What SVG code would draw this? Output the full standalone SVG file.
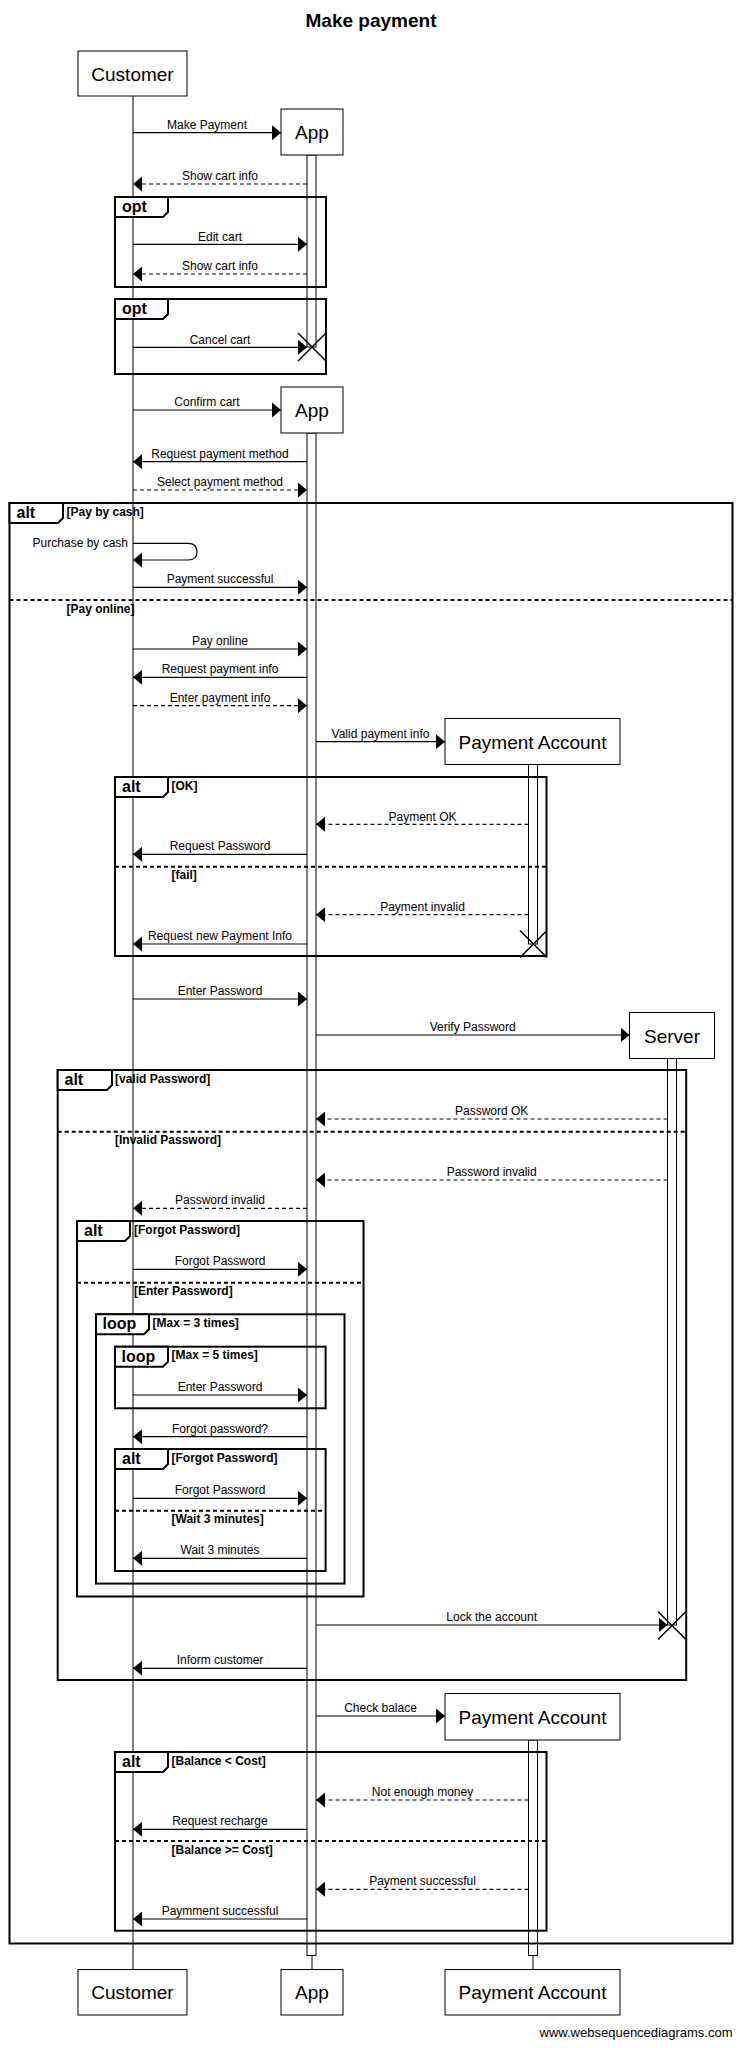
<svg xmlns="http://www.w3.org/2000/svg" width="742" height="2048" viewBox="0 0 742 2048">
<style>
text{font-family:"Liberation Sans",Arial,sans-serif;fill:#000}
.title{font-size:19px;font-weight:bold;text-anchor:middle}
.box{fill:#fff;stroke:#000;stroke-width:1}
.pt{font-size:19px;text-anchor:middle}
.life{stroke:#000;stroke-width:1;fill:none}
.bar{fill:#fff;stroke:#000;stroke-width:1}
.frame{fill:none;stroke:#000;stroke-width:2}
.tab{fill:#fff;stroke:#000;stroke-width:2}
.sep{stroke:#000;stroke-width:2;stroke-dasharray:4 3;fill:none}
.ft{font-size:16px;font-weight:bold}
.gd{font-size:12px;font-weight:bold}
.msg{stroke:#000;stroke-width:1.2;fill:none;marker-end:url(#ah)}
.dash{stroke-dasharray:4 3}
.ml{font-size:12px;text-anchor:middle}
.x{stroke:#000;stroke-width:1.5;fill:none}
.foot{font-size:13px;text-anchor:end}
</style>
<defs>
<marker id="ah" markerUnits="userSpaceOnUse" markerWidth="9" markerHeight="15" viewBox="0 0 9 15" refX="9" refY="7.5" orient="auto">
<path d="M0,0 L9,7.5 L0,15 Z" fill="#000" stroke="none"/>
</marker>
</defs>
<rect width="742" height="2048" fill="#fff"/>
<text class="title" x="371" y="27">Make payment</text>

<g id="lifelines">
<line class="life" x1="133" y1="96" x2="133" y2="1969"/>
<line class="life" x1="312" y1="1955.5" x2="312" y2="1969"/>
<line class="life" x1="533" y1="1955.5" x2="533" y2="1969"/>
<rect class="bar" x="307" y="155" width="9" height="192"/>
<rect class="bar" x="307" y="433" width="9" height="1522.5"/>
<rect class="bar" x="528.5" y="764.5" width="9" height="179.5"/>
<rect class="bar" x="528.5" y="1740" width="9" height="215.5"/>
<rect class="bar" x="667.5" y="1058.5" width="9" height="566.5"/>
</g>

<g id="participant-customer">
<rect class="box" x="78" y="51" width="109" height="45"/>
<text class="pt" x="132.5" y="80.5">Customer</text>
<rect class="box" x="78" y="1969.5" width="109" height="45.5"/>
<text class="pt" x="132.5" y="1999">Customer</text>
</g>
<g id="participant-app">
<rect class="box" x="281" y="109" width="62" height="46"/>
<text class="pt" x="312" y="139">App</text>
<rect class="box" x="281" y="387" width="62" height="46"/>
<text class="pt" x="312" y="417">App</text>
<rect class="box" x="281" y="1969.5" width="62" height="45.5"/>
<text class="pt" x="312" y="1999">App</text>
</g>
<g id="participant-payment-account">
<rect class="box" x="445" y="718.5" width="175" height="46"/>
<text class="pt" x="532.5" y="748.5">Payment Account</text>
<rect class="box" x="445" y="1693.5" width="175" height="46.5"/>
<text class="pt" x="532.5" y="1723.5">Payment Account</text>
<rect class="box" x="445" y="1969.5" width="175" height="45.5"/>
<text class="pt" x="532.5" y="1999">Payment Account</text>
</g>
<g id="participant-server">
<rect class="box" x="629.5" y="1012.5" width="85" height="46"/>
<text class="pt" x="672" y="1042.5">Server</text>
</g>

<g id="frames">
<!-- opt 1 -->
<rect class="frame" x="115" y="197" width="211" height="90"/>
<path class="tab" d="M115,197 H168 V212 L163,217 H115 Z"/>
<text class="ft" x="122" y="212">opt</text>
<!-- opt 2 -->
<rect class="frame" x="115" y="299" width="211" height="75"/>
<path class="tab" d="M115,299 H168 V314 L163,319 H115 Z"/>
<text class="ft" x="122" y="314">opt</text>
<!-- outer alt -->
<rect class="frame" x="9.5" y="503" width="723" height="1440.5"/>
<path class="tab" d="M9.5,503 H63 V518 L58,523 H9.5 Z"/>
<text class="ft" x="16.5" y="518">alt</text>
<text class="gd" x="66.5" y="515.5">[Pay by cash]</text>
<line class="sep" x1="9.5" y1="600" x2="732.5" y2="600"/>
<text class="gd" x="66.5" y="612.5">[Pay online]</text>
<!-- alt OK -->
<rect class="frame" x="115" y="777" width="431.5" height="179"/>
<path class="tab" d="M115,777 H168 V792 L163,797 H115 Z"/>
<text class="ft" x="122" y="792">alt</text>
<text class="gd" x="171.5" y="789.5">[OK]</text>
<line class="sep" x1="115" y1="866.7" x2="546.5" y2="866.7"/>
<text class="gd" x="171.5" y="879.3">[fail]</text>
<!-- alt valid password -->
<rect class="frame" x="57.7" y="1070" width="628.5" height="610"/>
<path class="tab" d="M57.7,1070 H112 V1085 L107,1090 H57.7 Z"/>
<text class="ft" x="64.5" y="1085">alt</text>
<text class="gd" x="115" y="1082.5">[valid Password]</text>
<line class="sep" x1="57.7" y1="1131.7" x2="686.2" y2="1131.7"/>
<text class="gd" x="115" y="1144">[Invalid Password]</text>
<!-- alt forgot password -->
<rect class="frame" x="77" y="1221" width="286.5" height="375.5"/>
<path class="tab" d="M77,1221 H130 V1236 L125,1241 H77 Z"/>
<text class="ft" x="84" y="1236">alt</text>
<text class="gd" x="134" y="1233.5">[Forgot Password]</text>
<line class="sep" x1="77" y1="1282.7" x2="363.5" y2="1282.7"/>
<text class="gd" x="134" y="1295">[Enter Password]</text>
<!-- loop 3 -->
<rect class="frame" x="96" y="1314.3" width="248.5" height="269.3"/>
<path class="tab" d="M96,1314.3 H149 V1329.3 L144,1334.3 H96 Z"/>
<text class="ft" x="102.5" y="1329.3">loop</text>
<text class="gd" x="152.5" y="1326.8">[Max = 3 times]</text>
<!-- loop 5 -->
<rect class="frame" x="115" y="1346.7" width="210.6" height="61.6"/>
<path class="tab" d="M115,1346.7 H168 V1361.7 L163,1366.7 H115 Z"/>
<text class="ft" x="121.5" y="1361.7">loop</text>
<text class="gd" x="171.5" y="1359.2">[Max = 5 times]</text>
<!-- inner alt forgot -->
<rect class="frame" x="115" y="1449" width="210.6" height="122"/>
<path class="tab" d="M115,1449 H168 V1464 L163,1469 H115 Z"/>
<text class="ft" x="122" y="1464">alt</text>
<text class="gd" x="171.5" y="1461.5">[Forgot Password]</text>
<line class="sep" x1="115" y1="1510.7" x2="325.6" y2="1510.7"/>
<text class="gd" x="171.5" y="1523">[Wait 3 minutes]</text>
<!-- alt balance -->
<rect class="frame" x="115" y="1752" width="431.5" height="178.7"/>
<path class="tab" d="M115,1752 H168 V1767 L163,1772 H115 Z"/>
<text class="ft" x="122" y="1767">alt</text>
<text class="gd" x="171.5" y="1764.5">[Balance &lt; Cost]</text>
<line class="sep" x1="115" y1="1841" x2="546.5" y2="1841"/>
<text class="gd" x="171.5" y="1853.5">[Balance &gt;= Cost]</text>
</g>

<g id="connectors">
<line class="msg" x1="133" y1="132.7" x2="281" y2="132.7"/>
<text class="ml" x="207" y="128.5">Make Payment</text>
<line class="msg dash" x1="307" y1="184" x2="133" y2="184"/>
<text class="ml" x="220" y="180">Show cart info</text>
<line class="msg" x1="133" y1="244.3" x2="307" y2="244.3"/>
<text class="ml" x="220" y="240.5">Edit cart</text>
<line class="msg dash" x1="307" y1="274" x2="133" y2="274"/>
<text class="ml" x="220" y="270">Show cart info</text>
<line class="msg" x1="133" y1="347.3" x2="307" y2="347.3"/>
<text class="ml" x="220" y="343.5">Cancel cart</text>
<path class="x" d="M298,333 L326,361 M326,333 L298,361"/>
<line class="msg" x1="133" y1="410" x2="281" y2="410"/>
<text class="ml" x="207" y="406">Confirm cart</text>
<line class="msg" x1="307" y1="461.7" x2="133" y2="461.7"/>
<text class="ml" x="220" y="457.5">Request payment method</text>
<line class="msg dash" x1="133" y1="490" x2="307" y2="490"/>
<text class="ml" x="220" y="486">Select payment method</text>
<path class="msg" d="M133,543.3 H188 Q197,543.3 197,551.7 Q197,560 188,560 H133"/>
<text class="ml" x="128" y="547" style="text-anchor:end">Purchase by cash</text>
<line class="msg" x1="133" y1="587.3" x2="307" y2="587.3"/>
<text class="ml" x="220" y="583.3">Payment successful</text>
<line class="msg" x1="133" y1="649" x2="307" y2="649"/>
<text class="ml" x="220" y="645">Pay online</text>
<line class="msg" x1="307" y1="677.3" x2="133" y2="677.3"/>
<text class="ml" x="220" y="673.3">Request payment info</text>
<line class="msg dash" x1="133" y1="705.7" x2="307" y2="705.7"/>
<text class="ml" x="220" y="701.7">Enter payment info</text>
<line class="msg" x1="316" y1="741.7" x2="445" y2="741.7"/>
<text class="ml" x="380.5" y="737.5">Valid payment info</text>
<line class="msg dash" x1="528.5" y1="824.3" x2="316" y2="824.3"/>
<text class="ml" x="422.5" y="820.5">Payment OK</text>
<line class="msg" x1="307" y1="854.3" x2="133" y2="854.3"/>
<text class="ml" x="220" y="850">Request Password</text>
<line class="msg dash" x1="528.5" y1="914.7" x2="316" y2="914.7"/>
<text class="ml" x="422.5" y="910.7">Payment invalid</text>
<line class="msg" x1="307" y1="944" x2="133" y2="944"/>
<text class="ml" x="220" y="939.5">Request new Payment Info</text>
<path class="x" d="M520,930.5 L547,957.5 M547,930.5 L520,957.5"/>
<line class="msg" x1="133" y1="999" x2="307" y2="999"/>
<text class="ml" x="220" y="995">Enter Password</text>
<line class="msg" x1="316" y1="1035" x2="629.5" y2="1035"/>
<text class="ml" x="472.7" y="1031">Verify Password</text>
<line class="msg dash" x1="667.5" y1="1119" x2="316" y2="1119"/>
<text class="ml" x="491.7" y="1115">Password OK</text>
<line class="msg dash" x1="667.5" y1="1180" x2="316" y2="1180"/>
<text class="ml" x="491.7" y="1175.7">Password invalid</text>
<line class="msg dash" x1="307" y1="1208.3" x2="133" y2="1208.3"/>
<text class="ml" x="220" y="1204">Password invalid</text>
<line class="msg" x1="133" y1="1269.3" x2="307" y2="1269.3"/>
<text class="ml" x="220" y="1265">Forgot Password</text>
<line class="msg" x1="133" y1="1395" x2="307" y2="1395"/>
<text class="ml" x="220" y="1391">Enter Password</text>
<line class="msg" x1="307" y1="1436.7" x2="133" y2="1436.7"/>
<text class="ml" x="220" y="1432.7">Forgot password?</text>
<line class="msg" x1="133" y1="1498.3" x2="307" y2="1498.3"/>
<text class="ml" x="220" y="1494">Forgot Password</text>
<line class="msg" x1="307" y1="1558.3" x2="133" y2="1558.3"/>
<text class="ml" x="220" y="1554">Wait 3 minutes</text>
<line class="msg" x1="316" y1="1625" x2="667.5" y2="1625"/>
<text class="ml" x="491.7" y="1620.7">Lock the account</text>
<path class="x" d="M658,1611.5 L686,1639.5 M686,1611.5 L658,1639.5"/>
<line class="msg" x1="307" y1="1668.3" x2="133" y2="1668.3"/>
<text class="ml" x="220" y="1664">Inform customer</text>
<line class="msg" x1="316" y1="1716" x2="445" y2="1716"/>
<text class="ml" x="380.5" y="1712">Check balace</text>
<line class="msg dash" x1="528.5" y1="1800" x2="316" y2="1800"/>
<text class="ml" x="422.5" y="1796">Not enough money</text>
<line class="msg" x1="307" y1="1829.3" x2="133" y2="1829.3"/>
<text class="ml" x="220" y="1825">Request recharge</text>
<line class="msg dash" x1="528.5" y1="1889.3" x2="316" y2="1889.3"/>
<text class="ml" x="422.5" y="1885">Payment successful</text>
<line class="msg" x1="307" y1="1919" x2="133" y2="1919"/>
<text class="ml" x="220" y="1914.5">Paymment successful</text>
</g>

<text class="foot" x="732.5" y="2036.5">www.websequencediagrams.com</text>
</svg>
